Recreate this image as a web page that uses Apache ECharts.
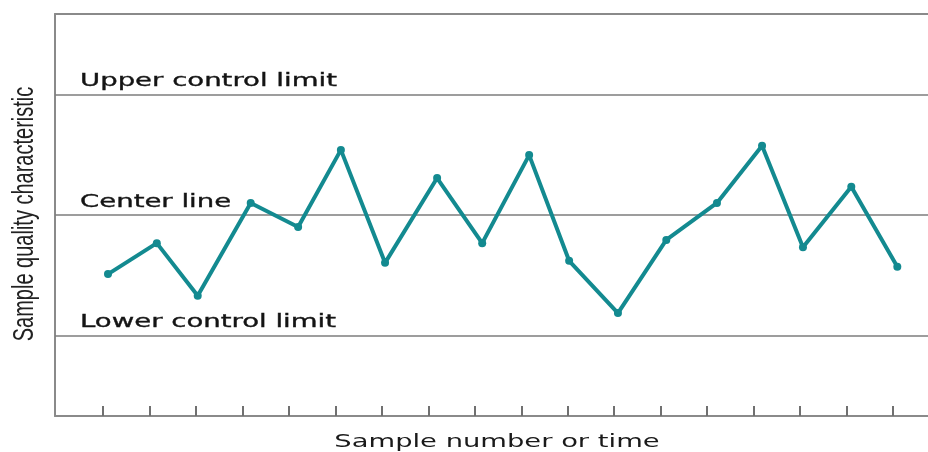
<!DOCTYPE html>
<html>
<head>
<meta charset="utf-8">
<script src="https://cdn.jsdelivr.net/npm/echarts@6/dist/echarts.min.js"></script>
<style>
html,body{margin:0;padding:0;background:#fff;}
#chart{width:928px;height:452px;}
</style>
</head>
<body>
<div id="chart"></div>
<script>
// Sample positions (x, in sample-number units) and quality values (y, in sigma units)
const sampleX = [1.11, 2.16, 3.04, 4.18, 5.20, 6.12, 7.07, 8.19, 9.16, 10.17, 11.03, 12.08, 13.12, 14.21, 15.18, 16.06, 17.10, 18.09];
const sampleY = [-1.47, -0.70, -2.01, 0.30, -0.30, 1.62, -1.19, 0.92, -0.70, 1.49, -1.14, -2.44, -0.62, 0.30, 1.72, -0.80, 0.70, -1.29];
const tickValues = [1, 2, 3, 4, 5, 6, 7, 8, 9, 10, 11, 12, 13, 14, 15, 16, 17, 18];
const limitNames = ["Upper control limit", "Center line", "Lower control limit"];
const limitValues = [3, 0, -3];
const xTitle = "Sample number or time";
const yTitle = "Sample quality characteristic";

const chart = echarts.init(document.getElementById('chart'), null, {renderer: 'canvas'});
const gray = '#8a8a8a';
const teal = '#138a90';

const option = {
  animation: false,
  backgroundColor: '#ffffff',
  grid: {left: 55, right: 0, top: 14, bottom: 36},
  xAxis: [{
    type: 'value', min: -0.03, max: 18.75,
    axisLine: {show: true, onZero: false, lineStyle: {color: gray, width: 2}},
    axisTick: {show: true, inside: true, length: 10, customValues: tickValues, lineStyle: {color: '#707070', width: 2}},
    axisLabel: {show: false},
    splitLine: {show: false}
  }, {
    type: 'value', position: 'top', min: -0.03, max: 18.75,
    axisLine: {show: true, onZero: false, lineStyle: {color: gray, width: 2}},
    axisTick: {show: false}, axisLabel: {show: false}, splitLine: {show: false}
  }],
  yAxis: {
    type: 'value', min: -5, max: 5,
    axisLine: {show: true, onZero: false, lineStyle: {color: gray, width: 2}},
    axisTick: {show: false}, axisLabel: {show: false}, splitLine: {show: false}
  },
  series: [{
    type: 'line',
    data: sampleX.map((x, i) => [x, sampleY[i]]),
    symbol: 'circle', symbolSize: 8,
    lineStyle: {color: teal, width: 4},
    itemStyle: {color: teal},
    z: 5,
    markLine: {
      silent: true, symbol: 'none',
      label: {show: false},
      lineStyle: {color: '#7d7d7d', width: 1.5, type: 'solid'},
      data: limitValues.map(v => ({yAxis: v}))
    }
  }]
};
chart.setOption(option);

const fontH = 'DejaVu Sans, Verdana, sans-serif';
const graphics = limitNames.map((name, i) => {
  const py = chart.convertToPixel({yAxisIndex: 0}, limitValues[i]);
  return {
    type: 'text', x: 80, y: py - 13, scaleX: 1.53, scaleY: 1,
    style: {text: name, fontSize: 18, fontFamily: fontH, fill: '#141414', stroke: '#141414', lineWidth: 0.35, align: 'left', verticalAlign: 'middle'}
  };
});
graphics.push({
  type: 'text', x: 497, y: 442, scaleX: 1.52, scaleY: 1,
  style: {text: xTitle, fontSize: 18, fontFamily: fontH, fill: '#1a1a1a', align: 'center', verticalAlign: 'middle'}
});
graphics.push({
  type: 'text', x: 25, y: 214, rotation: Math.PI / 2, scaleX: 1.0, scaleY: 1.5,
  style: {text: yTitle, fontSize: 20, fontFamily: 'Liberation Sans, Arial, sans-serif', fill: '#222222', align: 'center', verticalAlign: 'middle'}
});
chart.setOption({graphic: graphics});
</script>
</body>
</html>
